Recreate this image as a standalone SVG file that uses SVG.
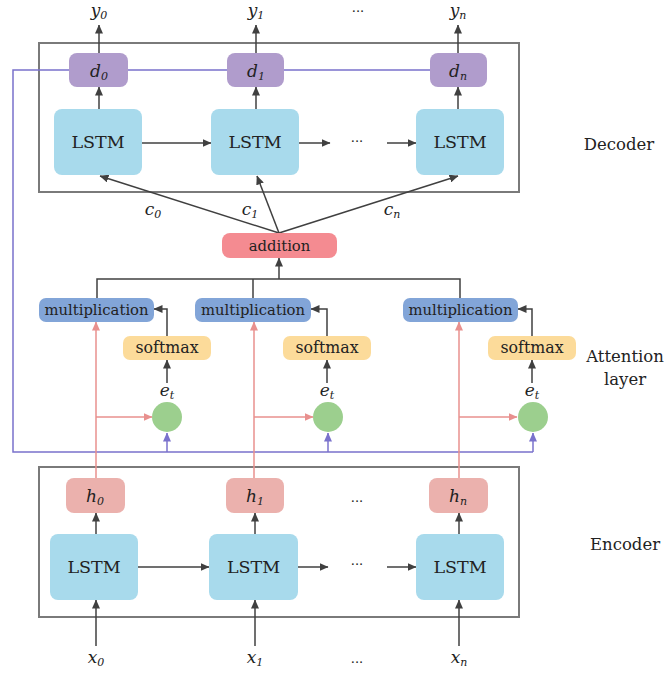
<svg xmlns="http://www.w3.org/2000/svg" width="666" height="675" viewBox="0 0 666 675">
<defs>
<marker id="ak" markerWidth="9" markerHeight="8" refX="8.5" refY="4" orient="auto" markerUnits="userSpaceOnUse"><path d="M0,0 L9,4 L0,8 z" fill="#404040"/></marker>
<marker id="ap" markerWidth="9" markerHeight="8" refX="8.5" refY="4" orient="auto" markerUnits="userSpaceOnUse"><path d="M0,0 L9,4 L0,8 z" fill="#e8908e"/></marker>
<marker id="au" markerWidth="9" markerHeight="8" refX="8.5" refY="4" orient="auto" markerUnits="userSpaceOnUse"><path d="M0,0 L9,4 L0,8 z" fill="#7a72cc"/></marker>
</defs>
<style>
text{font-family:'DejaVu Serif','Liberation Serif',serif;fill:#222;text-anchor:middle}
.lstm{fill:#a8daec}
.d{fill:#b09ccc}
.h{fill:#ebb1ad}
.mul{fill:#82a5d8}
.sm{fill:#fcdb9a}
.add{fill:#f48b91}
.circ{fill:#9ccf8e}
.frame{fill:none;stroke:#7a7a7a;stroke-width:2}
.k{stroke:#404040;stroke-width:1.5;fill:none}
.p{stroke:#e8908e;stroke-width:1.5;fill:none}
.u{stroke:#7a72cc;stroke-width:1.5;fill:none}
.big{font-size:17.5px}
.mul-t{font-size:14.8px}
.add-t{font-size:14.8px}
.sm-t{font-size:15.8px}
.dots{font-size:13px}
.it{font-style:italic;font-size:17px}
.sub{font-size:11px;font-style:italic}
.lab{font-size:16.5px}
</style>

<g id="frames">
<rect class="frame" x="39" y="43" width="480" height="149"/>
<rect class="frame" x="39" y="467" width="480" height="150"/>
</g>

<g id="connectors">
<path class="u" d="M430,70 H13 V452 H533"/>
<path class="u" d="M167,452 V433" marker-end="url(#au)"/>
<path class="u" d="M328,452 V433" marker-end="url(#au)"/>
<path class="u" d="M533,452 V433" marker-end="url(#au)"/>
<path class="k" d="M99,53 V25" marker-end="url(#ak)"/>
<path class="k" d="M256,53 V25" marker-end="url(#ak)"/>
<path class="k" d="M458,53 V25" marker-end="url(#ak)"/>
<path class="k" d="M99,109 V87" marker-end="url(#ak)"/>
<path class="k" d="M256,109 V87" marker-end="url(#ak)"/>
<path class="k" d="M458,109 V87" marker-end="url(#ak)"/>
<path class="k" d="M142,143 H211" marker-end="url(#ak)"/>
<path class="k" d="M299,143 H330" marker-end="url(#ak)"/>
<path class="k" d="M387,143 H416" marker-end="url(#ak)"/>
<path class="k" d="M279,233 L100,176" marker-end="url(#ak)"/>
<path class="k" d="M279,233 L257,176" marker-end="url(#ak)"/>
<path class="k" d="M279,233 L458,176" marker-end="url(#ak)"/>
<path class="k" d="M97,298 V279 H460 V298"/>
<path class="k" d="M253,298 V279"/>
<path class="k" d="M279,279 V258" marker-end="url(#ak)"/>
<path class="k" d="M167,336 V309 H154" marker-end="url(#ak)"/>
<path class="k" d="M327,336 V309 H311" marker-end="url(#ak)"/>
<path class="k" d="M532,336 V309 H518" marker-end="url(#ak)"/>
<path class="k" d="M167,383 V360" marker-end="url(#ak)"/>
<path class="k" d="M327,383 V360" marker-end="url(#ak)"/>
<path class="k" d="M532,383 V360" marker-end="url(#ak)"/>
<path class="p" d="M96,478 V322" marker-end="url(#ap)"/>
<path class="p" d="M254,478 V322" marker-end="url(#ap)"/>
<path class="p" d="M459,478 V322" marker-end="url(#ap)"/>
<path class="p" d="M96,417 H152" marker-end="url(#ap)"/>
<path class="p" d="M254,417 H313" marker-end="url(#ap)"/>
<path class="p" d="M459,417 H517" marker-end="url(#ap)"/>
<path class="k" d="M96,534 V513" marker-end="url(#ak)"/>
<path class="k" d="M255,534 V513" marker-end="url(#ak)"/>
<path class="k" d="M459,534 V513" marker-end="url(#ak)"/>
<path class="k" d="M138,567 H209" marker-end="url(#ak)"/>
<path class="k" d="M298,567 H328" marker-end="url(#ak)"/>
<path class="k" d="M387,567 H416" marker-end="url(#ak)"/>
<path class="k" d="M96,646 V600" marker-end="url(#ak)"/>
<path class="k" d="M255,646 V600" marker-end="url(#ak)"/>
<path class="k" d="M459,646 V600" marker-end="url(#ak)"/>
</g>

<g id="y0"><text x="99" y="16" class="it">y<tspan class="sub" dy="3">0</tspan></text></g>
<g id="y1"><text x="256" y="16" class="it">y<tspan class="sub" dy="3">1</tspan></text></g>
<g id="yn"><text x="458" y="16" class="it">y<tspan class="sub" dy="3">n</tspan></text></g>
<g id="ydots"><text x="358" y="12" class="dots">...</text></g>

<g id="d0"><rect class="d" x="69" y="53" width="59" height="34" rx="8"/><text x="99" y="77" class="it">d<tspan class="sub" dy="3">0</tspan></text></g>
<g id="d1"><rect class="d" x="227" y="53" width="57" height="34" rx="8"/><text x="256" y="77" class="it">d<tspan class="sub" dy="3">1</tspan></text></g>
<g id="dn"><rect class="d" x="430" y="53" width="57" height="34" rx="8"/><text x="458" y="77" class="it">d<tspan class="sub" dy="3">n</tspan></text></g>

<g id="declstm0"><rect class="lstm" x="54" y="109" width="88" height="66" rx="8"/><text x="98" y="148" class="big">LSTM</text></g>
<g id="declstm1"><rect class="lstm" x="211" y="109" width="88" height="66" rx="8"/><text x="255" y="148" class="big">LSTM</text></g>
<g id="declstmn"><rect class="lstm" x="416" y="109" width="88" height="66" rx="8"/><text x="460" y="148" class="big">LSTM</text></g>
<g id="decdots"><text x="357" y="142" class="dots">...</text></g>

<g id="c0"><text x="153" y="215" class="it">c<tspan class="sub" dy="3">0</tspan></text></g>
<g id="c1"><text x="250" y="215" class="it">c<tspan class="sub" dy="3">1</tspan></text></g>
<g id="cn"><text x="392" y="215" class="it">c<tspan class="sub" dy="3">n</tspan></text></g>

<g id="addition"><rect class="add" x="222" y="233" width="115" height="25" rx="8"/><text x="279.5" y="250.5" class="add-t">addition</text></g>

<g id="mul0"><rect class="mul" x="39" y="298" width="115" height="24" rx="7"/><text x="96.5" y="315" class="mul-t">multiplication</text></g>
<g id="mul1"><rect class="mul" x="195" y="298" width="116" height="24" rx="7"/><text x="253" y="315" class="mul-t">multiplication</text></g>
<g id="mul2"><rect class="mul" x="403" y="298" width="115" height="24" rx="7"/><text x="460.5" y="315" class="mul-t">multiplication</text></g>

<g id="sm0"><rect class="sm" x="123" y="336" width="88" height="24" rx="7"/><text x="167" y="353" class="sm-t">softmax</text></g>
<g id="sm1"><rect class="sm" x="283" y="336" width="88" height="24" rx="7"/><text x="327" y="353" class="sm-t">softmax</text></g>
<g id="sm2"><rect class="sm" x="488" y="336" width="88" height="24" rx="7"/><text x="532" y="353" class="sm-t">softmax</text></g>

<g id="e0"><text x="167" y="396" class="it">e<tspan class="sub" dy="3">t</tspan></text></g>
<g id="e1"><text x="327" y="396" class="it">e<tspan class="sub" dy="3">t</tspan></text></g>
<g id="e2"><text x="532" y="396" class="it">e<tspan class="sub" dy="3">t</tspan></text></g>

<g id="score0"><circle class="circ" cx="167" cy="417" r="15"/></g>
<g id="score1"><circle class="circ" cx="328" cy="417" r="15"/></g>
<g id="score2"><circle class="circ" cx="533" cy="417" r="15"/></g>

<g id="h0"><rect class="h" x="66" y="478" width="59" height="35" rx="8"/><text x="95" y="502" class="it">h<tspan class="sub" dy="3">0</tspan></text></g>
<g id="h1"><rect class="h" x="226" y="478" width="58" height="35" rx="8"/><text x="255" y="502" class="it">h<tspan class="sub" dy="3">1</tspan></text></g>
<g id="hn"><rect class="h" x="429" y="478" width="59" height="35" rx="8"/><text x="458" y="502" class="it">h<tspan class="sub" dy="3">n</tspan></text></g>
<g id="hdots"><text x="357" y="502" class="dots">...</text></g>

<g id="enclstm0"><rect class="lstm" x="50" y="534" width="88" height="66" rx="8"/><text x="94" y="573" class="big">LSTM</text></g>
<g id="enclstm1"><rect class="lstm" x="209" y="534" width="89" height="66" rx="8"/><text x="253.5" y="573" class="big">LSTM</text></g>
<g id="enclstmn"><rect class="lstm" x="416" y="534" width="88" height="66" rx="8"/><text x="460" y="573" class="big">LSTM</text></g>
<g id="encdots"><text x="357" y="565" class="dots">...</text></g>

<g id="x0"><text x="96" y="663" class="it">x<tspan class="sub" dy="3">0</tspan></text></g>
<g id="x1"><text x="255" y="663" class="it">x<tspan class="sub" dy="3">1</tspan></text></g>
<g id="xn"><text x="459" y="663" class="it">x<tspan class="sub" dy="3">n</tspan></text></g>
<g id="xdots"><text x="357" y="663" class="dots">...</text></g>

<g id="labels">
<text x="619" y="150" class="lab">Decoder</text>
<text x="625" y="362" class="lab">Attention</text>
<text x="625" y="385" class="lab">layer</text>
<text x="625" y="550" class="lab">Encoder</text>
</g>
</svg>
